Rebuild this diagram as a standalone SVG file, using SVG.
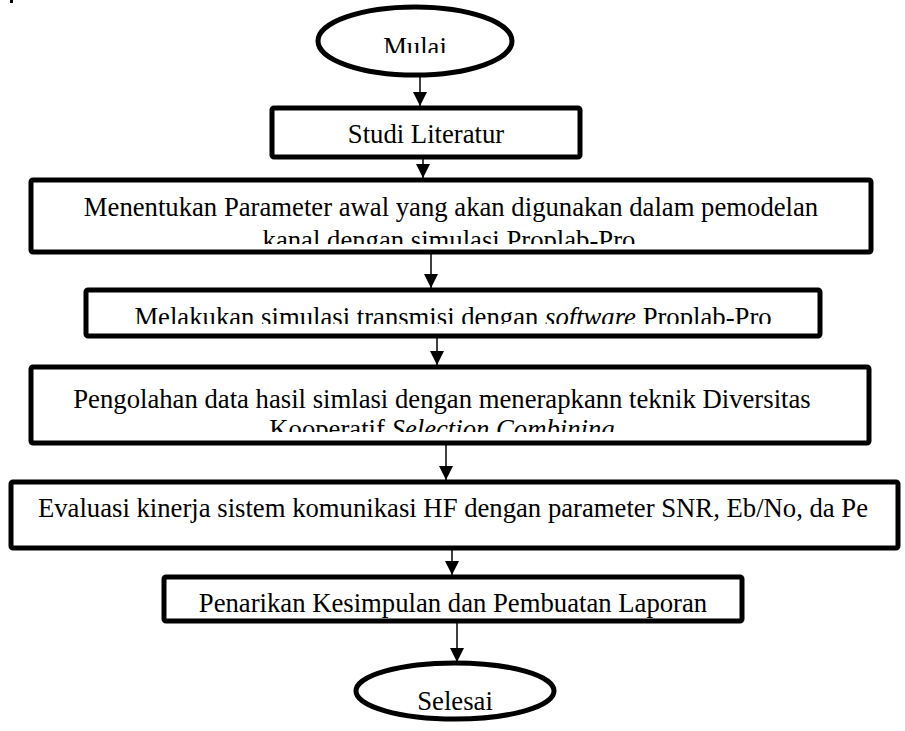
<svg xmlns="http://www.w3.org/2000/svg" width="905" height="731" viewBox="0 0 905 731">
<defs>
<style>
.box{fill:#fff;stroke:#000;stroke-width:5}
.t{font-family:"Liberation Serif","Times New Roman",serif;font-size:26.7px;fill:#000;text-anchor:middle}
.c{stroke:#000;stroke-width:1.5;fill:none}
</style>
<marker id="ah" markerWidth="14" markerHeight="14" viewBox="0 0 14 14" refX="14" refY="7" orient="auto" markerUnits="userSpaceOnUse">
<path d="M0,0 L14,7 L0,14 Z" fill="#000"/>
</marker>
<clipPath id="c1"><rect x="0" y="0" width="905" height="53"/></clipPath>
<clipPath id="c3"><rect x="0" y="0" width="905" height="244"/></clipPath>
<clipPath id="c4"><rect x="0" y="0" width="905" height="324"/></clipPath>
<clipPath id="c5"><rect x="0" y="0" width="905" height="432"/></clipPath>
<clipPath id="c9"><rect x="0" y="0" width="905" height="717"/></clipPath>
</defs>
<rect x="10" y="0" width="3" height="3" fill="#000"/>
<g id="connectors">
<line class="c" x1="420" y1="76" x2="420" y2="106" marker-end="url(#ah)"/>
<line class="c" x1="423" y1="159" x2="423" y2="178" marker-end="url(#ah)"/>
<line class="c" x1="431" y1="254" x2="431" y2="288" marker-end="url(#ah)"/>
<line class="c" x1="437" y1="338" x2="437" y2="365" marker-end="url(#ah)"/>
<line class="c" x1="446" y1="445" x2="446" y2="480" marker-end="url(#ah)"/>
<line class="c" x1="452" y1="550" x2="452" y2="575" marker-end="url(#ah)"/>
<line class="c" x1="457" y1="623" x2="457" y2="662" marker-end="url(#ah)"/>
</g>
<g id="mulai">
<ellipse class="box" cx="415" cy="41" rx="97" ry="34"/>
<text class="t" x="415" y="56" clip-path="url(#c1)">Mulai</text>
</g>
<g id="studi">
<rect class="box" x="272" y="108" width="308" height="49" rx="2"/>
<text class="t" x="426" y="143">Studi Literatur</text>
</g>
<g id="parameter">
<rect class="box" x="31" y="180" width="840" height="72" rx="2"/>
<text class="t" x="451" y="216">Menentukan Parameter awal yang akan digunakan dalam pemodelan</text>
<text class="t" x="449" y="249" clip-path="url(#c3)">kanal dengan simulasi Proplab-Pro</text>
</g>
<g id="simulasi">
<rect class="box" x="86" y="290" width="734" height="46" rx="2"/>
<text class="t" x="453" y="326" clip-path="url(#c4)">Melakukan simulasi transmisi dengan <tspan font-style="italic">software</tspan> Proplab-Pro</text>
</g>
<g id="pengolahan">
<rect class="box" x="31" y="367" width="838" height="76" rx="2"/>
<text class="t" x="442" y="408">Pengolahan data hasil simlasi dengan menerapkann teknik Diversitas</text>
<text class="t" x="442" y="438" clip-path="url(#c5)">Kooperatif <tspan font-style="italic">Selection Combining</tspan></text>
</g>
<g id="evaluasi">
<rect class="box" x="11" y="482" width="887" height="66" rx="2"/>
<text class="t" x="453" y="517">Evaluasi kinerja sistem komunikasi HF dengan parameter SNR, Eb/No, da Pe</text>
</g>
<g id="penarikan">
<rect class="box" x="164" y="577" width="578" height="44" rx="2"/>
<text class="t" x="453" y="612">Penarikan Kesimpulan dan Pembuatan Laporan</text>
</g>
<g id="selesai">
<ellipse class="box" cx="455" cy="691" rx="99" ry="28"/>
<text class="t" x="455" y="710" clip-path="url(#c9)">Selesai</text>
</g>
</svg>
